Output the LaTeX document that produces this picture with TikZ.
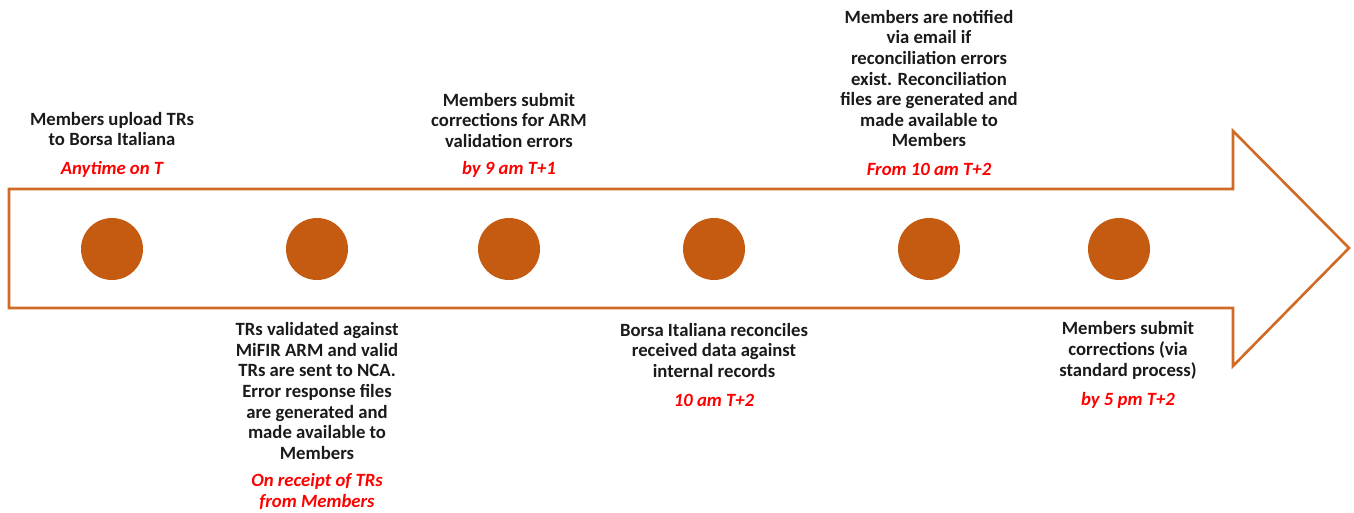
\documentclass[tikz,border=0pt]{standalone}
\usepackage{fontspec}
\setmainfont{Carlito}
\definecolor{fillor}{HTML}{C55A11}
\definecolor{lineor}{HTML}{D06A25}
\definecolor{redtxt}{HTML}{FF0000}
\definecolor{blktxt}{HTML}{1A1A1A}
\begin{document}
\begin{tikzpicture}[x=1pt,y=-1pt,
  dot/.style={circle,fill=fillor,minimum size=62pt,inner sep=0pt},
  desc/.style={align=center,inner sep=0pt,text=blktxt,font=\fontsize{18.7}{20.6}\selectfont\bfseries},
  when/.style={align=center,inner sep=0pt,text=redtxt,font=\fontsize{18.7}{20.6}\selectfont\bfseries\itshape}]
\useasboundingbox (0,0) rectangle (1354,513);
\draw[lineor,line width=2.6pt,line join=miter,fill=white]
  (9,189) -- (1233,189) -- (1233,131) -- (1349,248) -- (1233,366) -- (1233,308) -- (9,308) -- cycle;
\node[dot] (c1) at (112,249) {};
\node[dot] (c2) at (317,249) {};
\node[dot] (c3) at (509,249) {};
\node[dot] (c4) at (714,249) {};
\node[dot] (c5) at (929,249) {};
\node[dot] (c6) at (1119,249) {};
\node[desc] (t1) at (112,129) {Members upload TRs\\to Borsa Italiana};
\node[when] (w1) at (112,169) {Anytime on T};
\node[desc] (t2) at (317,391) {TRs validated against\\MiFIR ARM and valid\\TRs are sent to NCA.\\Error response files\\are generated and\\made available to\\Members};
\node[when] (w2) at (317,491.5) {On receipt of TRs\\from Members};
\node[desc] (t3) at (509,120.5) {Members submit\\corrections for ARM\\validation errors};
\node[when] (w3) at (509,169) {by 9 am T+1};
\node[desc] (t4) at (714,350.5) {Borsa Italiana reconciles\\received data against\\internal records};
\node[when] (w4) at (714,400) {10 am T+2};
\node[desc] (t5) at (929,78.5) {Members are notified\\via email if\\reconciliation errors\\exist. Reconciliation\\files are generated and\\made available to\\Members};
\node[when] (w5) at (929,169) {From 10 am T+2};
\node[desc] (t6) at (1128,350.5) {Members submit\\corrections (via\\standard process)};
\node[when] (w6) at (1128,400) {by 5 pm T+2};
\end{tikzpicture}
\end{document}
